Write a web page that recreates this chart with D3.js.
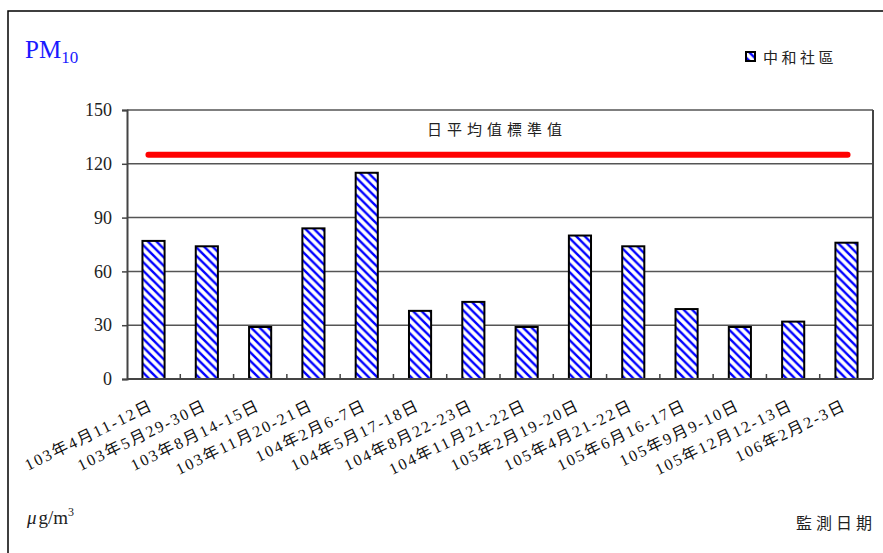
<!DOCTYPE html>
<html>
<head>
<meta charset="utf-8">
<script src="https://cdn.jsdelivr.net/npm/d3@7"></script>
<style>
  html, body { margin: 0; padding: 0; background: #fff; }
  svg { display: block; }
</style>
</head>
<body>
<svg id="chart" width="883" height="553"></svg>
<script>
const categories = [
  "103年4月11-12日", "103年5月29-30日", "103年8月14-15日", "103年11月20-21日",
  "104年2月6-7日", "104年5月17-18日", "104年8月22-23日", "104年11月21-22日",
  "105年2月19-20日", "105年4月21-22日", "105年6月16-17日", "105年9月9-10日",
  "105年12月12-13日", "106年2月2-3日"
];
const values = [77, 74, 29, 84, 115, 38, 43, 29, 80, 74, 39, 29, 32, 76];
const yTicks = [0, 30, 60, 90, 120, 150];
const standardValue = 125;
const standardLabel = "日平均值標準值";
const seriesName = "中和社區";

const svg = d3.select("#chart");
const serif = "'Liberation Serif', 'DejaVu Serif', serif";
const cjk = "'Liberation Serif', 'Noto Sans CJK TC', serif";

const m = { left: 127, right: 873, top: 110, bottom: 379 };

// pattern
const defs = svg.append("defs");
const pat = defs.append("pattern")
  .attr("id", "stripes")
  .attr("patternUnits", "userSpaceOnUse")
  .attr("width", 8.5).attr("height", 8.5);
pat.append("rect").attr("width", 8.5).attr("height", 8.5).attr("fill", "#fff");
pat.append("path")
  .attr("d", "M-2,-2 L10.5,10.5 M-2,6.5 L2,10.5 M6.5,-2 L10.5,2")
  .attr("stroke", "#0000ff").attr("stroke-width", 2.4);

// outer frame
svg.append("rect").attr("x", 8).attr("y", 11).attr("width", 900).attr("height", 600)
  .attr("fill", "none").attr("stroke", "#000").attr("stroke-width", 1.5);

const x = d3.scaleBand().domain(categories).range([m.left, m.right]).paddingInner(0.585).paddingOuter(0.29);
const y = d3.scaleLinear().domain([0, 150]).range([m.bottom, m.top]);

// gridlines
svg.append("g").selectAll("line").data(yTicks.filter(d => d > 0)).join("line")
  .attr("x1", m.left).attr("x2", m.right)
  .attr("y1", d => y(d)).attr("y2", d => y(d))
  .attr("stroke", "#555").attr("stroke-width", 1.5);

// y axis
const yAxis = svg.append("g").attr("transform", `translate(${m.left},0)`)
  .call(d3.axisLeft(y).tickValues(yTicks).tickSize(5).tickPadding(10));
yAxis.select(".domain").attr("stroke", "#444").attr("stroke-width", 2);
yAxis.selectAll(".tick line").attr("stroke", "#444").attr("stroke-width", 1.5);
yAxis.selectAll(".tick text").attr("font-family", serif).attr("font-size", 18).attr("fill", "#222");

// right border of plot
svg.append("line").attr("x1", m.right).attr("x2", m.right).attr("y1", m.top).attr("y2", m.bottom)
  .attr("stroke", "#444").attr("stroke-width", 2);

// bars
svg.append("g").selectAll("rect").data(values).join("rect")
  .attr("x", (d, i) => x(categories[i]))
  .attr("y", d => y(d))
  .attr("width", x.bandwidth())
  .attr("height", d => y(0) - y(d))
  .attr("fill", "url(#stripes)")
  .attr("stroke", "#000").attr("stroke-width", 2);

// x axis
const xAxisG = svg.append("g");
xAxisG.append("line").attr("x1", m.left).attr("x2", m.right).attr("y1", m.bottom).attr("y2", m.bottom)
  .attr("stroke", "#444").attr("stroke-width", 2);
xAxisG.selectAll("line.tk").data(d3.range(1, categories.length)).join("line")
  .attr("class", "tk")
  .attr("x1", i => m.left + i * (m.right - m.left) / categories.length)
  .attr("x2", i => m.left + i * (m.right - m.left) / categories.length)
  .attr("y1", m.bottom).attr("y2", m.bottom - 5)
  .attr("stroke", "#444").attr("stroke-width", 1.5);

// x labels
svg.append("g").selectAll("text").data(categories).join("text")
  .attr("transform", d => `translate(${x(d) + x.bandwidth() / 2 + 1},${m.bottom + 30}) rotate(-26)`)
  .attr("text-anchor", "end")
  .attr("font-family", cjk).attr("font-size", 16)
  .attr("letter-spacing", 2)
  .attr("fill", "#111")
  .text(d => d);

// standard line
svg.append("line")
  .attr("x1", x(categories[0]) + 6).attr("x2", x(categories[categories.length - 1]) + x.bandwidth() - 10)
  .attr("y1", y(standardValue)).attr("y2", y(standardValue))
  .attr("stroke", "#ff0000").attr("stroke-width", 6).attr("stroke-linecap", "round");
svg.append("text").attr("x", 497).attr("y", 135).attr("text-anchor", "middle")
  .attr("font-family", "'Noto Sans CJK TC', sans-serif").attr("font-size", 15)
  .attr("letter-spacing", 5).attr("fill", "#222")
  .text(standardLabel);

// title
const t = svg.append("text").attr("x", 25).attr("y", 58)
  .attr("font-family", serif).attr("font-size", 25).attr("fill", "#1a1aff");
t.append("tspan").text("PM");
t.append("tspan").attr("font-size", 17).attr("dy", 5).text("10");

// legend
svg.append("rect").attr("x", 746).attr("y", 52).attr("width", 9).attr("height", 9)
  .attr("fill", "url(#stripes)").attr("stroke", "#000").attr("stroke-width", 2);
svg.append("text").attr("x", 763).attr("y", 63)
  .attr("font-family", "'Noto Sans CJK TC', sans-serif").attr("font-size", 15)
  .attr("letter-spacing", 3.5).attr("fill", "#222").text(seriesName);

// units
const u = svg.append("text").attr("x", 27).attr("y", 524)
  .attr("font-family", serif).attr("font-size", 19).attr("fill", "#222");
u.append("tspan").attr("font-style", "italic").text("μ");
u.append("tspan").attr("dx", 2).text("g/m");
u.append("tspan").attr("font-size", 12).attr("dy", -8).text("3");

svg.append("text").attr("x", 876).attr("y", 529).attr("text-anchor", "end")
  .attr("font-family", "'Noto Sans CJK TC', sans-serif").attr("font-size", 16)
  .attr("letter-spacing", 4).attr("fill", "#222").text("監測日期");
</script>
</body>
</html>
